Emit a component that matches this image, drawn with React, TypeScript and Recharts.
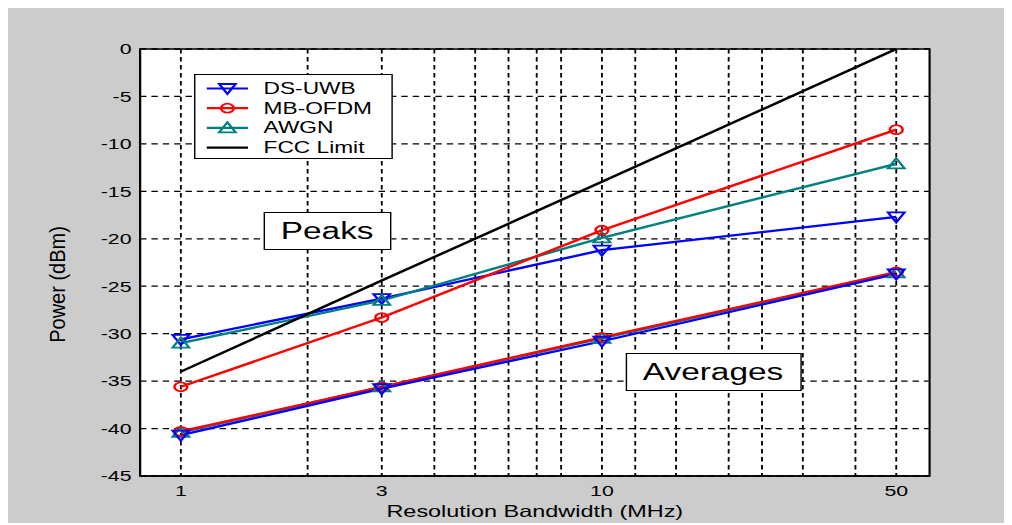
import { CartesianGrid, Line, LineChart, ReferenceArea, XAxis, YAxis } from "recharts";

// values (dBm), x = resolution bandwidth in MHz
const bandwidthMHz = [1, 3, 10, 50];
const dsUwbPeak = [-30.6, -26.3, -21.2, -17.7];
const mbOfdmPeak = [-35.6, -28.3, -19.1, -8.5];
const awgnPeak = [-31.0, -26.5, -19.9, -12.1];
const fccLimit = [-34.0, -24.4, -14.0, 0];
const dsUwbAvg = [-40.7, -35.8, -30.8, -23.7];
const mbOfdmAvg = [-40.3, -35.6, -30.4, -23.5];
const awgnAvg = [-40.4, -35.6, -30.5, -23.6];

const xTicks = [1, 3, 10, 50];
const xGridValues = [0.9, 1, 2, 3, 4, 5, 6, 7, 8, 9, 10, 12, 15, 18, 20, 21, 24, 27, 30, 40, 50];
const yTicks = [-45, -40, -35, -30, -25, -20, -15, -10, -5, 0];

const BLUE = "#0000ff";
const RED = "#ff0000";
const TEAL = "#008080";
const BLACK = "#000000";

// the source picture is stretched sideways, so the whole figure is drawn narrow and scaled
const STRETCH = 1.42;
const W = 707;
const H = 515;
const FONT = '"Liberation Sans", Arial, Helvetica, sans-serif';

type Marker = "down" | "up" | "circle" | "none";

const legendItems: { name: string; color: string; marker: Marker }[] = [
  { name: "DS-UWB", color: BLUE, marker: "down" },
  { name: "MB-OFDM", color: RED, marker: "circle" },
  { name: "AWGN", color: TEAL, marker: "up" },
  { name: "FCC Limit", color: BLACK, marker: "none" },
];

const series: { key: string; color: string; marker: Marker }[] = [
  { key: "dsPeak", color: BLUE, marker: "down" },
  { key: "awgnPeak", color: TEAL, marker: "up" },
  { key: "mbPeak", color: RED, marker: "circle" },
  { key: "fcc", color: BLACK, marker: "none" },
  { key: "awgnAvg", color: TEAL, marker: "up" },
  { key: "mbAvg", color: RED, marker: "circle" },
  { key: "dsAvg", color: BLUE, marker: "down" },
];

const rows = bandwidthMHz.map((bw, i) => ({
  bw,
  dsPeak: dsUwbPeak[i],
  mbPeak: mbOfdmPeak[i],
  awgnPeak: awgnPeak[i],
  fcc: fccLimit[i],
  dsAvg: dsUwbAvg[i],
  mbAvg: mbOfdmAvg[i],
  awgnAvg: awgnAvg[i],
}));

function MarkerShape({ kind, cx, cy, color }: { kind: Marker; cx: number; cy: number; color: string }) {
  if (kind === "circle") {
    return <circle cx={cx} cy={cy} r={4.5} fill="none" stroke={color} strokeWidth={1.8} />;
  }
  if (kind === "down") {
    return (
      <path
        d={`M${cx - 5.8},${cy - 4.5}L${cx + 5.8},${cy - 4.5}L${cx},${cy + 5.5}Z`}
        fill="none"
        stroke={color}
        strokeWidth={1.8}
      />
    );
  }
  if (kind === "up") {
    return (
      <path
        d={`M${cx - 5.8},${cy + 4.5}L${cx + 5.8},${cy + 4.5}L${cx},${cy - 5.5}Z`}
        fill="none"
        stroke={color}
        strokeWidth={1.8}
      />
    );
  }
  return null;
}

function LegendBox() {
  return (
    <div
      style={{
        position: "absolute",
        left: 131,
        top: 66,
        width: 140,
        height: 85,
        background: "#fff",
        border: "1px solid #000",
        boxSizing: "border-box",
      }}
    >
      <svg width={138} height={83} style={{ position: "absolute", left: 0, top: 0 }}>
        {legendItems.map((item, i) => {
          const y = 13.5 + i * 19.7;
          return (
            <g key={item.name}>
              <line x1={8} x2={37} y1={y} y2={y} stroke={item.color} strokeWidth={2.2} />
              <MarkerShape kind={item.marker} cx={22.5} cy={y} color={item.color} />
              <text x={48} y={y + 5.6} fontSize={16} fill="#000">
                {item.name}
              </text>
            </g>
          );
        })}
      </svg>
    </div>
  );
}

function TextBox({ left, top, width, text }: { left: number; top: number; width: number; text: string }) {
  return (
    <div
      style={{
        position: "absolute",
        left,
        top,
        width,
        height: 38,
        background: "#fff",
        border: "1px solid #000",
        boxSizing: "border-box",
        fontSize: 23.5,
        lineHeight: "36px",
        textAlign: "center",
        color: "#000",
      }}
    >
      {text}
    </div>
  );
}

function PowerLabel(props: any) {
  const vb = props.viewBox ?? { x: 0, y: 0, width: 0, height: 0 };
  const cx = vb.x + 35;
  const cy = vb.y + vb.height / 2 + 22;
  return (
    <text
      transform={`translate(${cx},${cy}) rotate(-90) scale(1,0.79)`}
      textAnchor="middle"
      dominantBaseline="central"
      fontSize={20}
      fill="#000"
    >
      Power (dBm)
    </text>
  );
}

export default function App() {
  return (
    <div
      style={{
        position: "relative",
        width: W,
        height: H,
        background: "#cccccc",
        fontFamily: FONT,
        transform: `scaleX(${STRETCH})`,
        transformOrigin: "0 0",
      }}
    >
      <LineChart width={W} height={H} data={rows} margin={{ top: 41, right: 58, bottom: 0, left: 0 }}>
        <CartesianGrid
          fill="#ffffff"
          stroke="#000"
          strokeWidth={1.3}
          strokeDasharray="4.5 3.5"
          verticalValues={xGridValues}
          horizontalValues={yTicks}
        />
        <XAxis
          dataKey="bw"
          type="number"
          scale="log"
          domain={[0.8, 60]}
          allowDataOverflow
          ticks={xTicks}
          height={47}
          tickSize={0}
          tickMargin={9}
          axisLine={{ stroke: "#000", strokeWidth: 1.5 }}
          tick={{ fill: "#000", fontSize: 15 }}
          label={{ value: "Resolution Bandwidth (MHz)", position: "insideBottom", offset: 6, fill: "#000", fontSize: 16.5 }}
        />
        <YAxis
          type="number"
          domain={[-45, 0]}
          ticks={yTicks}
          width={93}
          tickSize={0}
          tickMargin={6}
          axisLine={{ stroke: "#000", strokeWidth: 1.5 }}
          tick={{ fill: "#000", fontSize: 15 }}
          label={{ content: (p: any) => <PowerLabel {...p} /> }}
        />
        <ReferenceArea x1={0.8} x2={60} y1={-45} y2={0} fill="none" stroke="#000" strokeWidth={1.5} />
        {series.map((s) => (
          <Line
            key={s.key}
            dataKey={s.key}
            type="linear"
            stroke={s.color}
            strokeWidth={2.3}
            isAnimationActive={false}
            legendType="none"
            dot={
              s.marker === "none"
                ? false
                : (p: any) => (
                    <MarkerShape key={`${s.key}-${p.index}`} kind={s.marker} cx={p.cx} cy={p.cy} color={s.color} />
                  )
            }
          />
        ))}
      </LineChart>
      <LegendBox />
      <TextBox left={180} top={204} width={89.5} text="Peaks" />
      <TextBox left={434.5} top={345} width={124} text="Averages" />
    </div>
  );
}
